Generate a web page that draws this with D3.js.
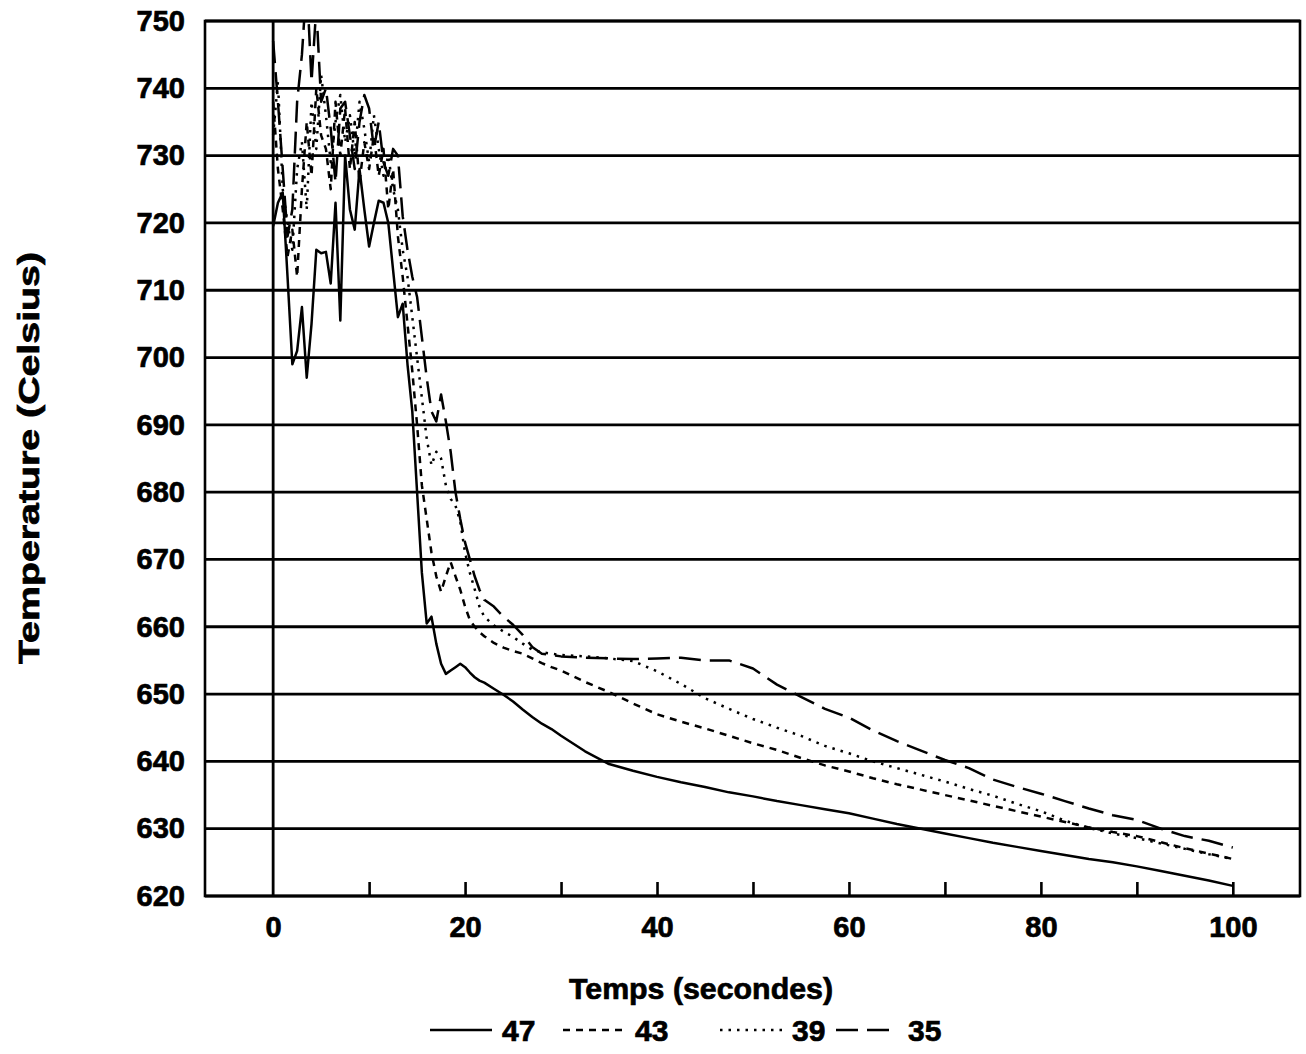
<!DOCTYPE html>
<html>
<head>
<meta charset="utf-8">
<script src="https://cdn.jsdelivr.net/npm/d3@7"></script>
<style>
  body { margin: 0; background: #fff; }
  text { font-family: "Liberation Sans", Arial, sans-serif; font-weight: bold; fill: #000; stroke: #000; stroke-width: 0.7px; }
</style>
</head>
<body>
<div id="chart"></div>
<script>
// time axis (seconds) shared by every series
var secondes = [
  0, 0.5, 1, 1.5, 2, 2.5, 3, 3.5, 4, 4.5, 5, 5.5, 6, 6.5, 7, 7.5, 8, 8.5, 9, 9.5,
  10, 10.5, 11, 11.5, 12, 12.5, 13, 13.5, 14, 14.5, 15, 15.5, 16, 16.5, 17, 17.5,
  18, 18.5, 19, 19.5, 20, 20.5, 21, 21.5, 22,
  23, 24, 25, 26, 27, 28, 29, 30,
  32.5, 35, 37.5, 40, 42.5, 45, 47.5, 50, 52.5, 55, 57.5, 60, 62.5, 65, 67.5, 70,
  72.5, 75, 77.5, 80, 82.5, 85, 87.5, 90, 92.5, 95, 97.5, 100
];

var serie47 = [
  719.5, 723, 724.5, 712, 699, 701, 707.5, 697, 705, 716, 715.5, 715.7, 711, 723, 705.5, 730, 722, 719, 728, 722,
  716.5, 720, 723.3, 723, 720, 713, 706, 708, 699, 692, 680, 668, 660.5, 661.5, 657.5, 654.5,
  653, 653.5, 654, 654.5, 654, 653.2, 652.5, 652, 651.7,
  650.8, 649.9, 648.9, 647.7, 646.6, 645.6, 644.8, 643.8,
  641.5, 639.6, 638.6, 637.7, 636.9, 636.2, 635.4, 634.8, 634.1, 633.5, 632.9, 632.3, 631.5, 630.7, 630, 629.3,
  628.6, 627.9, 627.3, 626.7, 626.1, 625.5, 625, 624.4, 623.7, 623, 622.3, 621.5
];

var serie43 = [
  738, 728, 722, 715, 719, 712, 725, 735, 727, 740, 733, 731, 725, 738, 730, 737, 728, 735, 726, 732,
  728, 733, 727, 731, 722, 728, 718, 712, 705, 698, 690, 681, 676, 671, 667.5, 665.2,
  667.5, 669.6, 667.5, 665.5, 663, 661, 660, 659.2, 658.6,
  657.6, 656.9, 656.4, 656, 655.3, 654.6, 654, 653.5,
  651.8, 650.3, 648.6, 647, 645.9, 644.9, 643.8, 642.7, 641.7, 640.5, 639.4, 638.5, 637.5, 636.6, 635.8, 635,
  634.2, 633.4, 632.6, 631.8, 631, 630.2, 629.5, 628.9, 628, 627.1, 626.3, 625.5
];

var serie39 = [
  733, 741, 725, 720, 716, 728, 732, 722, 738, 731, 742, 736, 729, 735, 739, 732, 736, 730, 738, 734,
  729, 736, 731, 727, 730, 725, 722, 716, 712, 706, 700, 694, 688, 684, 686, 685,
  681, 679, 678, 675.6, 671, 668, 665.6, 663, 661.5,
  660.2, 659.3, 658.5, 657.5, 656.6, 656.2, 656, 655.8,
  655.6, 655.3, 654.9, 653.4, 651.5, 649.4, 647.8, 646.3, 645, 643.8, 642.3, 641.2, 640, 639, 638, 637,
  635.9, 634.9, 633.7, 632.6, 631.2, 630.1, 629.3, 628.6, 627.8, 627, 626.2, 625.5
];

var serie35 = [
  747, 738, 728, 718, 722, 738, 745, 756, 741, 752, 738, 740, 734, 726, 737, 738, 733, 728, 735, 739,
  737, 731, 735, 729, 727, 731, 730, 721, 716, 712, 709, 703, 697, 692, 690.5, 694.5,
  690.5, 686, 680, 676, 672.5, 670, 667.5, 665.5, 664,
  663, 661.5, 660.3, 658.8, 657, 656, 655.8, 655.6,
  655.4, 655.3, 655.2, 655.3, 655.4, 655, 655, 653.8, 651.4, 649.6, 647.8, 646.5, 644.6, 643, 641.6, 640.2,
  639, 637.3, 636.2, 635.2, 634.1, 633, 632, 631.3, 630, 628.9, 628.2, 627.2
];

var seriesNames = ["47", "43", "39", "35"];
var xLabels = [0, 20, 40, 60, 80, 100];
var xMinorTicks = [10, 20, 30, 40, 50, 60, 70, 80, 90, 100];
var yTicks = [620, 630, 640, 650, 660, 670, 680, 690, 700, 710, 720, 730, 740, 750];

var width = 1306, height = 1054;
var plotLeft = 205, plotRight = 1300, plotTop = 21, plotBottom = 896;

var svg = d3.select("#chart").append("svg")
  .attr("width", width)
  .attr("height", height);

var x = d3.scaleLinear().domain([-7.1, 107]).range([plotLeft, plotRight]);
var y = d3.scaleLinear().domain([620, 750]).range([plotBottom, plotTop]);

// clip so the spikes above 750 get cut at the frame
svg.append("clipPath").attr("id", "plotClip")
  .append("rect")
  .attr("x", plotLeft).attr("y", plotTop)
  .attr("width", plotRight - plotLeft).attr("height", plotBottom - plotTop);

// horizontal grid lines
svg.append("g")
  .selectAll("line")
  .data(yTicks)
  .enter().append("line")
  .attr("x1", plotLeft).attr("x2", plotRight)
  .attr("y1", d => y(d)).attr("y2", d => y(d))
  .attr("stroke", "#000").attr("stroke-width", 2.8);

// frame
svg.append("rect")
  .attr("x", plotLeft).attr("y", plotTop)
  .attr("width", plotRight - plotLeft).attr("height", plotBottom - plotTop)
  .attr("fill", "none").attr("stroke", "#000").attr("stroke-width", 2.6);

// vertical line at t = 0
svg.append("line")
  .attr("x1", x(0)).attr("x2", x(0))
  .attr("y1", plotTop).attr("y2", plotBottom)
  .attr("stroke", "#000").attr("stroke-width", 2.8);

// small inner ticks on the bottom axis
var tickAxis = d3.axisBottom(x).tickValues(xMinorTicks).tickSize(-14).tickFormat("");
var tickG = svg.append("g").attr("transform", "translate(0," + plotBottom + ")").call(tickAxis);
tickG.select(".domain").remove();
tickG.selectAll("line").attr("stroke", "#000").attr("stroke-width", 2.6);

// x labels
var xAxis = d3.axisBottom(x).tickValues(xLabels).tickSize(0).tickPadding(20).tickFormat(d3.format("d"));
var xG = svg.append("g").attr("transform", "translate(0," + plotBottom + ")").call(xAxis);
xG.select(".domain").remove();
xG.selectAll("text").attr("font-size", 29).attr("font-family", "Liberation Sans, Arial, sans-serif").attr("font-weight", "bold");

// y labels
var yAxis = d3.axisLeft(y).tickValues(yTicks).tickSize(0).tickPadding(20).tickFormat(d3.format("d"));
var yG = svg.append("g").attr("transform", "translate(" + plotLeft + ",0)").call(yAxis);
yG.select(".domain").remove();
yG.selectAll("text").attr("font-size", 29).attr("font-family", "Liberation Sans, Arial, sans-serif").attr("font-weight", "bold");

// axis titles
svg.append("text")
  .attr("x", 701).attr("y", 999)
  .attr("text-anchor", "middle")
  .attr("font-size", 30)
  .attr("textLength", 264).attr("lengthAdjust", "spacingAndGlyphs")
  .text("Temps (secondes)");

svg.append("text")
  .attr("transform", "translate(39,458) rotate(-90)")
  .attr("text-anchor", "middle")
  .attr("font-size", 30)
  .attr("textLength", 412).attr("lengthAdjust", "spacingAndGlyphs")
  .text("Temperature (Celsius)");

// series
var dashes = {"47": null, "43": "7,6", "39": "2.5,6", "35": "22,9"};
var values = {"47": serie47, "43": serie43, "39": serie39, "35": serie35};

var line = d3.line()
  .x((d, i) => x(secondes[i]))
  .y(d => y(d));

var plot = svg.append("g").attr("clip-path", "url(#plotClip)");
seriesNames.forEach(function(name) {
  plot.append("path")
    .datum(values[name])
    .attr("d", line)
    .attr("fill", "none")
    .attr("stroke", "#000")
    .attr("stroke-width", 2.5)
    .attr("stroke-linejoin", "round")
    .attr("stroke-dasharray", dashes[name]);
});

// legend
var legendX = [430, 563, 720, 836];
var legend = svg.append("g");
seriesNames.forEach(function(name, i) {
  legend.append("line")
    .attr("x1", legendX[i]).attr("x2", legendX[i] + 62)
    .attr("y1", 1030).attr("y2", 1030)
    .attr("stroke", "#000").attr("stroke-width", 2.5)
    .attr("stroke-dasharray", dashes[name]);
  legend.append("text")
    .attr("x", legendX[i] + 72).attr("y", 1041)
    .attr("font-size", 30)
    .text(name);
});
</script>
</body>
</html>
